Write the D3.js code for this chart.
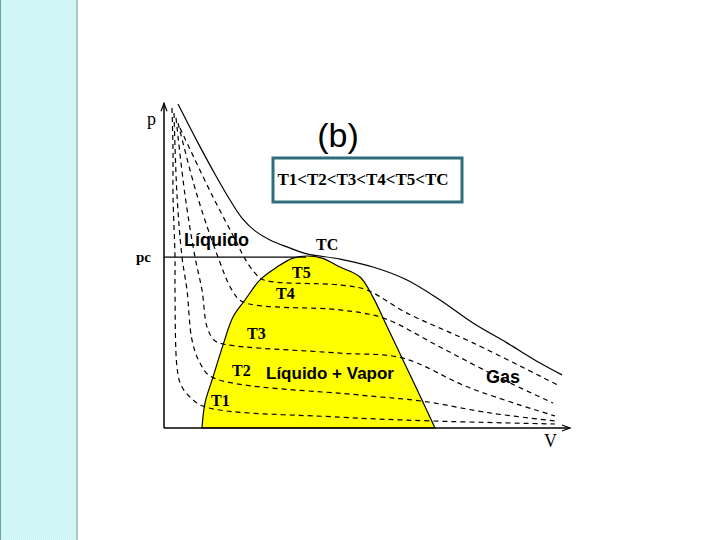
<!DOCTYPE html>
<html>
<head>
<meta charset="utf-8">
<script src="https://cdn.jsdelivr.net/npm/d3@7"></script>
<style>
  body { margin: 0; background: #fff; }
  svg { display: block; }
</style>
</head>
<body>
<script>
// p-V diagram, isotherms around the liquid-vapour dome
// values in arbitrary units: [V, p]
const dome = [
  [0.95, 0], [1.025, 0.78], [1.225, 1.59], [1.475, 2.59], [1.725, 3.47],
  [2.025, 4.0], [2.4, 4.63], [2.825, 5.03], [3.225, 5.31], [3.575, 5.375],
  [3.95, 5.31], [4.4, 5.03], [4.9, 4.72], [5.225, 4.09], [5.475, 3.44],
  [5.95, 2.19], [6.45, 0.875], [6.775, 0]
];

const isoT1 = [
  [0.2, 10], [0.225, 8.69], [0.225, 7.28], [0.275, 5.34], [0.275, 4.31],
  [0.325, 1.91], [0.425, 1.34], [0.65, 0.97], [1.025, 0.66], [4.4, 0.34],
  [6.7, 0.22], [9.775, 0.125]
];
const isoT2 = [
  [0.25, 9.84], [0.325, 7.28], [0.45, 5.34], [0.575, 4.31], [0.7, 2.75],
  [0.9, 2.03], [1.2, 1.59], [4.9, 1.03], [6.45, 0.84], [8.15, 0.47],
  [9.775, 0.22]
];
const isoT3 = [
  [0.3, 9.69], [0.525, 7.28], [0.775, 5.34], [0.95, 4.31], [1.075, 3.16],
  [1.25, 2.75], [1.475, 2.625], [4.4, 2.34], [5.95, 2.19], [7.65, 1.25],
  [9.775, 0.375]
];
const isoT4 = [
  [0.35, 9.53], [0.825, 7.28], [1.35, 5.34], [1.7, 4.31], [1.975, 3.94],
  [4.4, 3.69], [5.475, 3.44], [6.9, 2.53], [8.4, 1.56], [9.725, 0.78]
];
const isoT5 = [
  [0.4, 9.375], [1.2, 7.28], [1.825, 5.78], [2.0, 5.34], [2.275, 4.84],
  [2.5, 4.625], [4.4, 4.47], [5.075, 4.31], [6.075, 3.59], [7.725, 2.66],
  [9.85, 1.34]
];
const isoTC = [
  [0.35, 10.125], [0.85, 8.91], [1.3, 7.875], [1.65, 7.125], [1.95, 6.56],
  [2.275, 6.16], [2.65, 5.875], [3.075, 5.66], [3.575, 5.44], [4.4, 5.28],
  [5.225, 5.03], [6.075, 4.625], [6.9, 4.0], [7.725, 3.28], [8.575, 2.66],
  [9.4, 2.03], [9.95, 1.66]
];

const pc = 5.34;
const Vc = 3.55;
const isoLabels = ["T1", "T2", "T3", "T4", "T5", "TC"];

let width = 720;
let height = 540;

let svg = d3
  .select("body")
  .append("svg")
  .attr("width", width)
  .attr("height", height);

// left decorative band
let defs = svg.append("defs");
let pat = defs
  .append("pattern")
  .attr("id", "chk")
  .attr("width", 2)
  .attr("height", 2)
  .attr("patternUnits", "userSpaceOnUse");
pat.append("rect").attr("width", 2).attr("height", 2).attr("fill", "#c6f2f3");
pat.append("rect").attr("width", 1).attr("height", 1).attr("fill", "#dcfafa");
pat.append("rect").attr("x", 1).attr("y", 1).attr("width", 1).attr("height", 1).attr("fill", "#dcfafa");

svg.append("rect").attr("x", 0).attr("y", 0).attr("width", 77).attr("height", height).attr("fill", "url(#chk)");
svg.append("rect").attr("x", 0).attr("y", 0).attr("width", 1).attr("height", height).attr("fill", "#6aa3a5");
svg.append("rect").attr("x", 76).attr("y", 0).attr("width", 2).attr("height", height).attr("fill", "#a6c9ca");

// scales
var x = d3.scaleLinear().domain([0, 10]).range([164, 564]);
var y = d3.scaleLinear().domain([0, 10]).range([428, 108]);

var line = d3
  .line()
  .x(d => x(d[0]))
  .y(d => y(d[1]))
  .curve(d3.curveCatmullRom.alpha(0.5));

// dome
svg.append("path")
  .attr("d", line(dome) + "Z")
  .attr("fill", "#ffff00")
  .attr("stroke", "#000")
  .attr("stroke-width", 1.2);

// axes
var ax = svg.append("g").attr("stroke", "#000").attr("stroke-width", 1.5);
ax.append("line")
  .attr("x1", x(0)).attr("y1", y(0))
  .attr("x2", x(0)).attr("y2", y(10.15));
ax.append("line")
  .attr("x1", x(0)).attr("y1", y(0))
  .attr("x2", x(10.15)).attr("y2", y(0));
svg.append("path")
  .attr("d", "M" + (x(0) - 3) + "," + (y(10.15) + 8) + "L" + x(0) + "," + y(10.15) + "L" + (x(0) + 3) + "," + (y(10.15) + 8))
  .attr("fill", "none").attr("stroke", "#000").attr("stroke-width", 1.2);
svg.append("path")
  .attr("d", "M" + (x(10.15) - 8) + "," + (y(0) - 3) + "L" + x(10.15) + "," + y(0) + "L" + (x(10.15) - 8) + "," + (y(0) + 3))
  .attr("fill", "none").attr("stroke", "#000").attr("stroke-width", 1.2);

// pc line
svg.append("line")
  .attr("x1", x(0)).attr("y1", y(pc))
  .attr("x2", x(Vc)).attr("y2", y(pc))
  .attr("stroke", "#000").attr("stroke-width", 1.2);

// isotherms
var dashed = [isoT1, isoT2, isoT3, isoT4, isoT5];
svg.selectAll(".iso")
  .data(dashed)
  .enter()
  .append("path")
  .attr("class", "iso")
  .attr("d", line)
  .attr("fill", "none")
  .attr("stroke", "#000")
  .attr("stroke-width", 1.2)
  .attr("stroke-dasharray", "5,4");

svg.append("path")
  .attr("d", line(isoTC))
  .attr("fill", "none")
  .attr("stroke", "#000")
  .attr("stroke-width", 1.2);

// text
var serif = "'Liberation Serif', 'Times New Roman', serif";
var sans = "'Liberation Sans', Arial, sans-serif";

svg.append("text").attr("x", 147).attr("y", 125).style("font-family", serif).style("font-size", "18px").text("p");
svg.append("text").attr("x", 136).attr("y", 262).style("font-family", serif).style("font-size", "15px").style("font-weight", "bold").text("pc");
svg.append("text").attr("x", 544).attr("y", 447).style("font-family", serif).style("font-size", "18px").text("V");

svg.append("text").attr("x", 338).attr("y", 147).attr("text-anchor", "middle")
  .style("font-family", sans).style("font-size", "34px").text("(b)");

svg.append("rect").attr("x", 273).attr("y", 158).attr("width", 189).attr("height", 44)
  .attr("fill", "none").attr("stroke", "#2e6e7c").attr("stroke-width", 3);
svg.append("text").attr("x", 363).attr("y", 185).attr("text-anchor", "middle")
  .style("font-family", serif).style("font-size", "17px").style("font-weight", "bold")
  .text(isoLabels.join("<"));

var labPos = [[211, 406], [232, 376], [247, 339], [276, 299], [292, 278], [316, 250]];
svg.selectAll(".tl")
  .data(isoLabels)
  .enter()
  .append("text")
  .attr("class", "tl")
  .attr("x", (d, i) => labPos[i][0])
  .attr("y", (d, i) => labPos[i][1])
  .style("font-family", serif)
  .style("font-size", "16px")
  .style("font-weight", "bold")
  .text(d => d);

svg.append("text").attr("x", 184).attr("y", 246).style("font-family", sans).style("font-size", "18px").style("font-weight", "bold").text("Líquido");
svg.append("text").attr("x", 266).attr("y", 379).style("font-family", sans).style("font-size", "17px").style("font-weight", "bold").text("Líquido + Vapor");
svg.append("text").attr("x", 486).attr("y", 383).style("font-family", sans).style("font-size", "18px").style("font-weight", "bold").text("Gas");
</script>
</body>
</html>
